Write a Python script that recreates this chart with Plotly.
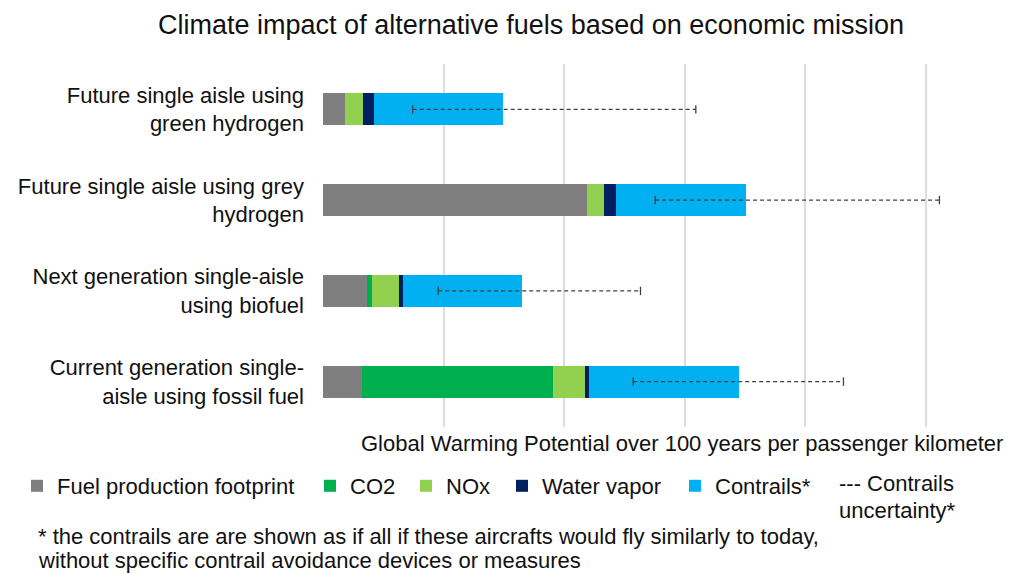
import plotly.graph_objects as go

# Aircraft concepts (top to bottom)
categories = [
    "Future single aisle using<br>green hydrogen",
    "Future single aisle using grey<br>hydrogen",
    "Next generation single-aisle<br>using biofuel",
    "Current generation single-<br>aisle using fossil fuel",
]

# GWP100 contributions per passenger kilometer (relative units)
fuel_production = [0.185, 2.189, 0.362, 0.325]
co2 = [0.0, 0.0, 0.041, 1.587]
nox = [0.144, 0.139, 0.229, 0.265]
water_vapor = [0.096, 0.105, 0.033, 0.032]
contrails = [1.067, 1.074, 0.984, 1.240]

# Contrails uncertainty range (low / high)
contrails_low = [0.744, 2.755, 0.956, 2.573]
contrails_high = [3.093, 5.114, 2.634, 4.318]

series = [
    ("Fuel production footprint", fuel_production, "#7f7f7f"),
    ("CO2", co2, "#00b050"),
    ("NOx", nox, "#92d050"),
    ("Water vapor", water_vapor, "#002060"),
    ("Contrails*", contrails, "#00b0f0"),
]

FONT = "Liberation Sans, Arial, sans-serif"
TXT = "#111111"
W, H = 1011, 574
ML, MR, MT, MB = 323, 13, 64, 147

fig = go.Figure()
legend_ids = ["legend", "legend2", "legend3", "legend4", "legend5"]
for (name, vals, color), lg in zip(series, legend_ids):
    fig.add_trace(go.Bar(
        y=categories, x=vals, name=name, orientation="h",
        marker=dict(color=color, line=dict(width=0)),
        legend=lg,
    ))

# Dashed uncertainty whiskers
ux, uy = [], []
for c, lo, hi in zip(categories, contrails_low, contrails_high):
    ux += [lo, hi, None]
    uy += [c, c, None]
fig.add_trace(go.Scatter(
    x=ux, y=uy, mode="lines+markers", showlegend=False,
    line=dict(color="#404040", width=1.3, dash="4px,3px"),
    marker=dict(symbol="line-ns-open", size=6, color="#404040",
                line=dict(color="#404040", width=1.3)),
    hoverinfo="skip",
))

# One legend box per item so the row spacing is controlled
legend_x = [17, 310, 406, 502, 675]
legend_common = dict(
    orientation="h", xref="container", yref="container",
    xanchor="left", yanchor="middle", y=1 - 486 / H,
    font=dict(family=FONT, size=22, color=TXT),
    bgcolor="rgba(0,0,0,0)", borderwidth=0,
)
layout_legends = {lg: dict(legend_common, x=lx / W)
                  for lg, lx in zip(legend_ids, legend_x)}

fig.update_layout(
    width=W, height=H,
    margin=dict(l=ML, r=MR, t=MT, b=MB),
    paper_bgcolor="white", plot_bgcolor="white",
    barmode="stack", bargap=0.647,
    font=dict(family=FONT, size=22, color=TXT),
    title=dict(
        text="Climate impact of alternative fuels based on economic mission",
        x=531 / W, xanchor="center", xref="container",
        y=1 - 25 / H, yanchor="middle", yref="container",
        font=dict(family=FONT, size=27, color=TXT),
    ),
    xaxis=dict(
        range=[0, 5.6], dtick=1, tick0=0,
        showgrid=True, gridcolor="#dcdcdc", gridwidth=1.5,
        zeroline=False, showline=False, showticklabels=False, ticks="",
    ),
    yaxis=dict(
        autorange="reversed", showgrid=False, showline=False, ticks="",
        ticklabelstandoff=18,
        tickfont=dict(family=FONT, size=22, color=TXT),
    ),
    **layout_legends,
)

# Free text: axis caption, uncertainty key and footnote (pixel positions)
texts = [
    ("Global Warming Potential over 100 years per passenger kilometer", 682, 443, "center"),
    ("--- Contrails", 837, 484, "left"),
    ("uncertainty*", 837, 510, "left"),
    ("* the contrails are are shown as if all if these aircrafts would fly similarly to today,", 36, 536, "left"),
    ("without specific contrail avoidance devices or measures", 36, 560, "left"),
]
for text, px, py, anchor in texts:
    fig.add_annotation(
        xref="paper", yref="paper", showarrow=False,
        xanchor=anchor, yanchor="middle",
        font=dict(family=FONT, size=22, color=TXT),
        text=text,
        x=(px - ML) / (W - ML - MR),
        y=(H - py - MB) / (H - MT - MB),
    )

fig.write_html("out.html")
